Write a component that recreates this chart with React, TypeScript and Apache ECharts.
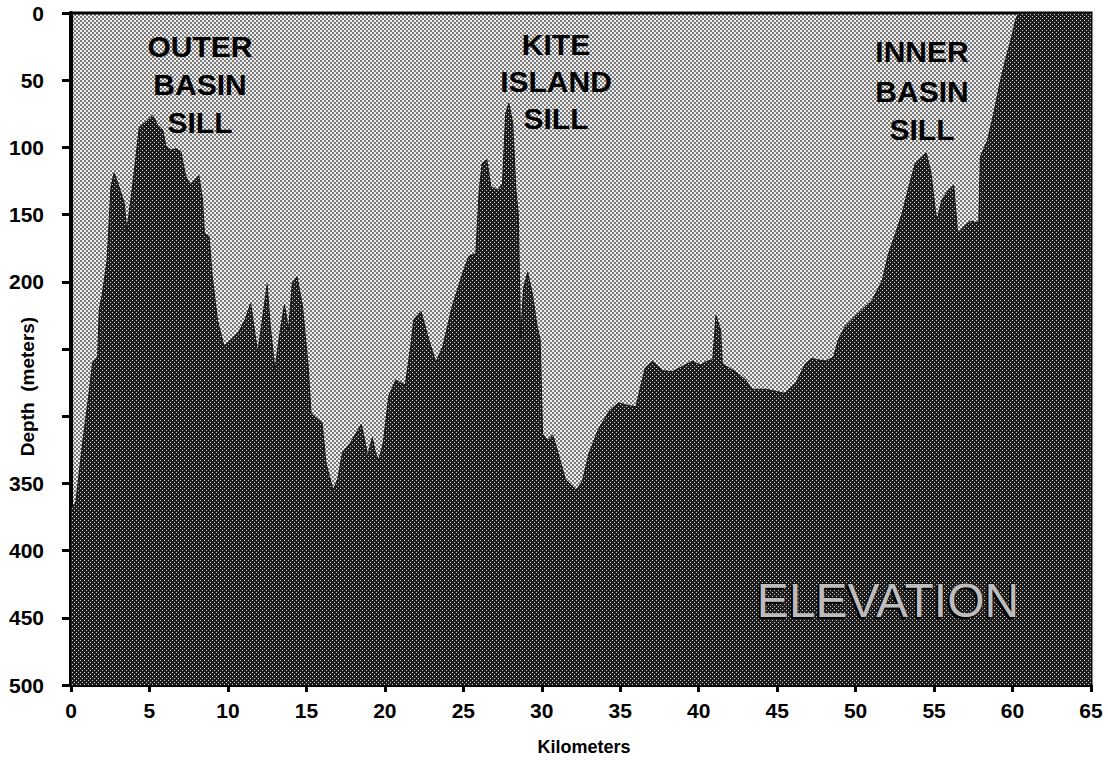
import React, { useEffect, useRef } from "react";
import * as echarts from "echarts";

// Distance along the section (km) and water depth (m)
const kmValues = [
  0, 0.3, 0.74, 1.15, 1.38, 1.7, 1.8, 2.0, 2.3, 2.55, 2.75, 3.05, 3.4, 3.55, 3.82, 4.14, 4.35, 4.78, 5.2, 5.5,
  5.84, 6.05, 6.37, 6.69, 7.0, 7.3, 7.6, 8.15, 8.38, 8.5, 8.8, 9.0, 9.34, 9.75, 10.3, 10.7, 11.1, 11.45, 11.65, 11.9,
  12.2, 12.5, 12.7, 13.0, 13.25, 13.6, 13.87, 14.1, 14.4, 14.75, 15.1, 15.3, 15.6, 16.0, 16.25, 16.7, 17.0, 17.3, 17.8, 18.5,
  18.8, 18.9, 19.2, 19.4, 19.6, 19.9, 20.25, 20.7, 21.3, 21.65, 21.85, 22.3, 22.8, 23.25, 23.7, 24.3, 24.95, 25.35, 25.8, 26.0,
  26.2, 26.5, 26.75, 27.2, 27.5, 27.7, 27.9, 28.15, 28.35, 28.5, 28.65, 28.85, 29.1, 29.4, 29.7, 29.9, 30.05, 30.35, 30.7, 31.1,
  31.5, 32.2, 32.6, 33.0, 33.6, 34.3, 34.9, 35.5, 36.0, 36.3, 36.6, 37.05, 37.7, 38.3, 38.95, 39.6, 40.1, 40.55, 40.9, 41.1,
  41.4, 41.5, 42.35, 43.0, 43.4, 44.3, 45.1, 45.5, 46.2, 46.8, 47.2, 47.55, 48.1, 48.6, 48.9, 49.35, 50.2, 51.05, 51.7, 52.1,
  52.55, 52.97, 53.4, 53.8, 54.5, 54.8, 55.1, 55.2, 55.5, 55.9, 56.25, 56.5, 56.9, 57.3, 57.85, 57.95, 58.4, 58.8, 59.2, 59.55,
  59.9, 60.2, 60.4, 65,
];
const depthValues = [
  368, 365, 320, 283, 260, 256, 221, 209, 184, 129, 119, 129, 142, 162, 139, 107, 85, 81, 76, 83,
  87, 99, 102, 101, 103, 121, 128, 121, 139, 164, 166, 196, 229, 248, 242, 237, 228, 216, 233, 253,
  228, 202, 233, 266, 243, 217, 236, 201, 196, 218, 261, 298, 301, 305, 335, 355, 347, 327, 320, 306,
  323, 330, 316, 327, 333, 320, 285, 273, 277, 248, 228, 222, 243, 260, 248, 218, 194, 181, 179, 134,
  112, 109, 129, 132, 127, 75, 67, 82, 132, 149, 241, 204, 193, 209, 233, 243, 313, 318, 314, 330,
  347, 355, 348, 328, 310, 296, 290, 292, 293, 278, 264, 259, 266, 267, 263, 259, 262, 259, 258, 225,
  236, 261, 267, 273, 280, 280, 282, 283, 275, 261, 257, 258, 259, 256, 243, 233, 223, 214, 199, 179,
  164, 149, 129, 112, 104, 119, 149, 154, 139, 132, 128, 164, 159, 155, 156, 107, 95, 75, 52, 35,
  20, 5, 0, 0,
];

// Depth tick values whose labels are left out (the axis title sits there)
const hiddenDepthLabels = [250, 300];

const outerLabel = ["OUTER", "BASIN", "SILL"];
const kiteLabel = ["KITE", "ISLAND", "SILL"];
const innerLabel = ["INNER", "BASIN", "SILL"];
const elevationLabel = "ELEVATION";
const xAxisTitle = "Kilometers";
const yAxisTitle = "Depth  (meters)";

const FONT = "'Liberation Sans', Arial, Helvetica, sans-serif";

function makeTile(w: number, h: number, bg: string, dots: [number, number, number, number][], dotColor: string) {
  const c = document.createElement("canvas");
  c.width = w;
  c.height = h;
  const ctx = c.getContext("2d")!;
  ctx.fillStyle = bg;
  ctx.fillRect(0, 0, w, h);
  ctx.fillStyle = dotColor;
  dots.forEach(([x, y, dw, dh]) => ctx.fillRect(x, y, dw, dh));
  return c;
}

export default function App() {
  const ref = useRef<HTMLDivElement>(null);

  useEffect(() => {
    if (!ref.current) return;
    const chart = echarts.init(ref.current, undefined, { renderer: "svg" });

    const lightTile = makeTile(4, 4, "#eeeeee", [[0, 0, 2, 2], [2, 2, 2, 2]], "#7a7a7a");
    const darkTile = makeTile(4, 4, "#1e1e1e", [[0, 0, 1, 1], [2, 2, 1, 1]], "#d0d0d0");
    const lightPattern: any = { image: lightTile, repeat: "repeat", imageWidth: 4, imageHeight: 4 };
    const darkPattern: any = { image: darkTile, repeat: "repeat", imageWidth: 4, imageHeight: 4 };

    const profile = kmValues.map((k, i) => [k, depthValues[i]]);

    const labelBlock = (lines: string[], cx: number, ys: number[]) =>
      lines.map((t, i) => ({
        type: "text",
        x: cx,
        y: ys[i],
        z: 10,
        style: {
          text: t,
          fill: "#000",
          font: `bold 30px ${FONT}`,
          textAlign: "center",
          textVerticalAlign: "middle",
        },
      }));

    const option: any = {
      animation: false,
      backgroundColor: "#ffffff",
      grid: {
        left: 71,
        right: 17,
        top: 13,
        bottom: 75,
        show: true,
        backgroundColor: lightPattern,
        borderColor: "#000",
        borderWidth: 3,
      },
      xAxis: {
        type: "value",
        min: 0,
        max: 65,
        interval: 5,
        axisLine: { show: true, onZero: false, lineStyle: { color: "#000", width: 3 } },
        axisTick: { show: true, inside: false, length: 7, lineStyle: { color: "#000", width: 3 } },
        axisLabel: { color: "#000", fontSize: 21, fontWeight: "bold", fontFamily: FONT, margin: 15 },
        splitLine: { show: false },
      },
      yAxis: {
        type: "value",
        inverse: true,
        min: 0,
        max: 500,
        interval: 50,
        axisLine: { show: true, onZero: false, lineStyle: { color: "#000", width: 4 } },
        axisTick: { show: true, inside: false, length: 9, lineStyle: { color: "#000", width: 3 } },
        axisLabel: {
          color: "#000",
          fontSize: 21,
          fontWeight: "bold",
          fontFamily: FONT,
          margin: 27,
          formatter: (v: number) => (hiddenDepthLabels.includes(v) ? "" : String(v)),
        },
        splitLine: { show: false },
      },
      series: [
        {
          type: "line",
          data: profile,
          showSymbol: false,
          smooth: false,
          lineStyle: { color: "#151515", width: 1 },
          areaStyle: { color: darkPattern, opacity: 1, origin: "end" },
          z: 2,
        },
      ],
      graphic: [
        ...labelBlock(outerLabel, 200, [46, 84, 122.5]),
        ...labelBlock(kiteLabel, 556, [44, 81.5, 118.5]),
        ...labelBlock(innerLabel, 922, [51.5, 91, 129]),
        {
          type: "text",
          x: 886,
          y: 602,
          z: 10,
          style: {
            text: elevationLabel,
            fill: "#000",
            font: `48px ${FONT}`,
            textAlign: "center",
            textVerticalAlign: "middle",
          },
        },
        {
          type: "text",
          x: 888,
          y: 600,
          z: 11,
          style: {
            text: elevationLabel,
            fill: "#bdbdbd",
            stroke: "#000",
            lineWidth: 1,
            font: `48px ${FONT}`,
            textAlign: "center",
            textVerticalAlign: "middle",
          },
        },
        {
          type: "text",
          x: 584,
          y: 747,
          z: 10,
          style: {
            text: xAxisTitle,
            fill: "#000",
            font: `bold 18px ${FONT}`,
            textAlign: "center",
            textVerticalAlign: "middle",
          },
        },
        {
          type: "text",
          x: 27.5,
          y: 386.5,
          rotation: Math.PI / 2,
          z: 10,
          style: {
            text: yAxisTitle,
            fill: "#000",
            font: `bold 19px ${FONT}`,
            textAlign: "center",
            textVerticalAlign: "middle",
          },
        },
      ],
    };

    chart.setOption(option);
    return () => chart.dispose();
  }, []);

  return (
    <div
      ref={ref}
      style={{ position: "absolute", left: 0, top: 0, width: 1108, height: 760, background: "#fff" }}
    />
  );
}
